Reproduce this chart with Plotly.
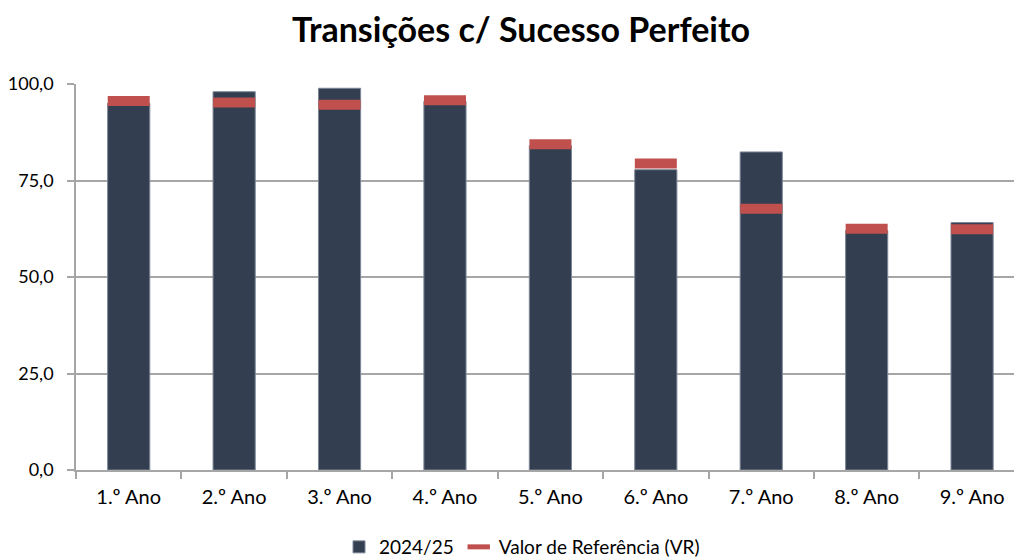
import plotly.graph_objects as go

categories = ["1.º Ano", "2.º Ano", "3.º Ano", "4.º Ano", "5.º Ano",
              "6.º Ano", "7.º Ano", "8.º Ano", "9.º Ano"]
values_2425 = [95.0, 98.0, 98.9, 95.5, 84.0, 77.8, 82.4, 62.0, 64.1]
values_vr = [95.6, 95.2, 94.6, 95.8, 84.4, 79.4, 67.7, 62.5, 62.4]
y_ticks = [0, 25, 50, 75, 100]

FONT = "Lato"
GRID = "#a6a6a6"

fig = go.Figure()
fig.add_trace(go.Bar(
    x=categories, y=values_2425, name="2024/25",
    width=0.4,
    marker=dict(color="#333f50", line=dict(color="#7d8798", width=1)),
))
fig.add_trace(go.Scatter(
    x=categories, y=values_vr, name="Valor de Referência (VR)",
    mode="markers",
    marker=dict(symbol="line-ew", size=30,
                line=dict(color="#c0504d", width=10)),
))

PLOT_L, PLOT_R, PLOT_T, PLOT_B = 76, 1014, 84, 470
PW, PH = PLOT_R - PLOT_L, PLOT_B - PLOT_T

fig.update_layout(
    width=1014, height=558,
    margin=dict(l=PLOT_L, r=1014 - PLOT_R, t=PLOT_T, b=558 - PLOT_B,
                autoexpand=False),
    paper_bgcolor="white", plot_bgcolor="white",
    separators=",.",
    font=dict(family=FONT, size=19, color="#000000"),
    title=dict(text="<b>Transições c/ Sucesso Perfeito</b>",
               x=521 / 1014, xref="container", xanchor="center",
               y=1 - 30 / 558, yref="container", yanchor="middle",
               font=dict(family=FONT, size=34, color="#000000")),
    showlegend=True,
    legend=dict(orientation="h", x=(522 - PLOT_L) / PW, xref="paper",
                xanchor="center",
                y=(PLOT_B - 547) / PH, yref="paper", yanchor="middle",
                font=dict(family=FONT, size=19, color="#000000"),
                itemwidth=30, tracegroupgap=0),
    bargap=0.6,
)
fig.update_xaxes(
    type="category",
    range=[-0.5, 8.5 - (1024.8 - 1014) / 105.5],
    showline=True, linecolor=GRID, linewidth=1.5,
    ticks="outside", tickson="boundaries", ticklen=7,
    tickcolor=GRID, tickwidth=1.5,
    showgrid=False,
    tickfont=dict(family=FONT, size=20),
    ticklabelstandoff=8,
)
fig.update_yaxes(
    range=[0, 100], tickvals=y_ticks, tickformat=".1f",
    showline=True, linecolor=GRID, linewidth=1.5,
    ticks="outside", ticklen=7, tickcolor=GRID, tickwidth=1.5,
    showgrid=True, gridcolor=GRID, gridwidth=1.5,
    zeroline=False,
    ticklabelstandoff=10,
    tickfont=dict(family=FONT, size=18),
)

fig.write_html("out.html",
               config={"displayModeBar": False},
               post_script="document.body.style.margin='0';"
                           "document.body.style.overflow='hidden';")
